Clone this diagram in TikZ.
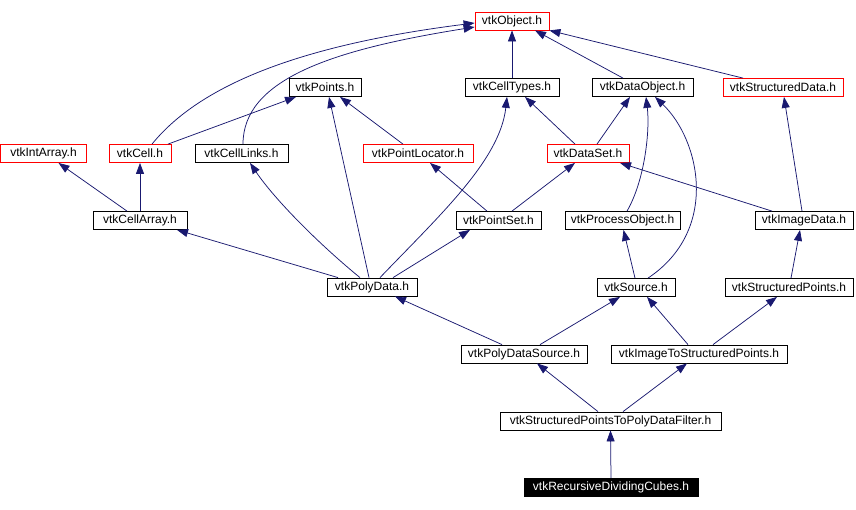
\documentclass[tikz,border=0pt]{standalone}
\usepackage{fontspec}
\setmainfont{Liberation Sans}
\usetikzlibrary{arrows.meta, calc}
\definecolor{edgenavy}{HTML}{191970}
\definecolor{boxred}{HTML}{FF0000}

\begin{document}
\begin{tikzpicture}[x=1pt, y=-1pt,
  font=\fontsize{12}{14}\selectfont,
  hdr/.style={draw=black, line width=0.8pt, inner sep=0pt, minimum height=18pt},
  hdrext/.style={hdr, draw=boxred},
  hdrmain/.style={hdr, fill=black, text=white},
  dep/.style={edgenavy, line width=0.75pt, -{Triangle[length=11pt, width=8pt]}}]

\useasboundingbox (0,0) rectangle (856,509);

% --- Row 1 ---
\node[hdrext, minimum width=74pt]  (obj)        at (512,21)    {vtkObject.h};

% --- Row 2 ---
\node[hdr, minimum width=72pt]     (points)     at (325,87.5)  {vtkPoints.h};
\node[hdr, minimum width=94pt]     (celltypes)  at (512,87.5)  {vtkCellTypes.h};
\node[hdr, minimum width=101pt]    (dataobj)    at (642.5,87.5){vtkDataObject.h};
\node[hdrext, minimum width=120pt] (structdata) at (783,87.5)  {vtkStructuredData.h};

% --- Row 3 ---
\node[hdrext, minimum width=86pt]  (intarray)   at (43.5,153.5){vtkIntArray.h};
\node[hdrext, minimum width=62pt]  (cell)       at (140,153.5) {vtkCell.h};
\node[hdr, minimum width=93pt]     (celllinks)  at (241.5,153.5){vtkCellLinks.h};
\node[hdrext, minimum width=110pt] (locator)    at (418,153.5) {vtkPointLocator.h};
\node[hdrext, minimum width=82pt]  (dataset)    at (588,153.5) {vtkDataSet.h};

% --- Row 4 ---
\node[hdr, minimum width=94pt]     (cellarray)  at (140,220.5) {vtkCellArray.h};
\node[hdr, minimum width=85pt]     (pointset)   at (498.5,220.5){vtkPointSet.h};
\node[hdr, minimum width=115pt]    (procobj)    at (622.5,220.5){vtkProcessObject.h};
\node[hdr, minimum width=98pt]     (imagedata)  at (804,220.5) {vtkImageData.h};

% --- Row 5 ---
\node[hdr, minimum width=90pt]     (polydata)   at (372,287)   {vtkPolyData.h};
\node[hdr, minimum width=78pt]     (source)     at (636,287.5) {vtkSource.h};
\node[hdr, minimum width=128pt]    (structpts)  at (789,287.5) {vtkStructuredPoints.h};

% --- Row 6 ---
\node[hdr, minimum width=126pt]    (pdsource)   at (524,354)   {vtkPolyDataSource.h};
\node[hdr, minimum width=176pt]    (imgtosp)    at (699,354)   {vtkImageToStructuredPoints.h};

% --- Rows 7 and 8 ---
\node[hdr, minimum width=221pt]    (sptopd)     at (610.5,421) {vtkStructuredPointsToPolyDataFilter.h};
\node[hdrmain, minimum width=174pt](rdcubes)    at (611,487.5) {vtkRecursiveDividingCubes.h};

% --- Curved dependencies ---
\draw[dep] ([xshift=12pt]cell.north) .. controls (200,85) and (300,45) .. ([yshift=-2pt]obj.west);
\draw[dep] ([xshift=1.5pt]celllinks.north) .. controls (243,80) and (330,50) .. ([yshift=-6pt]obj.west);
\draw[dep] ([xshift=8pt]polydata.north) .. controls (440,215) and (500,160) .. ([xshift=-5pt]celltypes.south);
\draw[dep] ([xshift=-12pt]polydata.north) .. controls (320,245) and (275,200) .. ([xshift=8.5pt]celllinks.south);
\draw[dep] ([xshift=4.5pt]procobj.north) .. controls (645,180) and (650,130) .. ([xshift=3.5pt]dataobj.south);
\draw[dep] ([xshift=12pt]source.north) .. controls (720,230) and (700,140) .. ([xshift=12.5pt]dataobj.south);

% --- Straight dependencies ---
\draw[dep] ([xshift=28pt]cell.north) -- ([xshift=-29pt]points.south);
\draw[dep] ([xshift=-15pt]locator.north) -- ([xshift=15pt]points.south);
\draw[dep] ([xshift=-3pt]polydata.north) -- ([xshift=4pt]points.south);
\draw[dep] (celltypes.north) -- (obj.south);
\draw[dep] ([xshift=-19.5pt]dataobj.north) -- ([xshift=23pt]obj.south);
\draw[dep] ([xshift=-40pt]structdata.north) -- (obj.south east);
\draw[dep] ([xshift=-13pt]dataset.north) -- ([xshift=13pt]celltypes.south);
\draw[dep] ([xshift=9pt]dataset.north) -- ([xshift=-12.5pt]dataobj.south);
\draw[dep] ([xshift=-2pt]imagedata.north) -- ([xshift=1pt]structdata.south);
\draw[dep] ([xshift=-32pt]imagedata.north) -- ([xshift=32pt]dataset.south);
\draw[dep] ([xshift=-11.5pt]pointset.north) -- ([xshift=12pt]locator.south);
\draw[dep] ([xshift=13.5pt]pointset.north) -- ([xshift=-13pt]dataset.south);
\draw[dep] ([xshift=-13pt]cellarray.north) -- ([xshift=15pt]intarray.south);
\draw[dep] (cellarray.north) -- (cell.south);
\draw[dep] ([xshift=-34pt]polydata.north) -- ([xshift=37pt]cellarray.south);
\draw[dep] ([xshift=21pt]polydata.north) -- ([xshift=-28.5pt]pointset.south);
\draw[dep] ([xshift=-1pt]source.north) -- ([xshift=1pt]procobj.south);
\draw[dep] ([xshift=2pt]structpts.north) -- ([xshift=-4pt]imagedata.south);
\draw[dep] ([xshift=-22pt]pdsource.north) -- ([xshift=23pt]polydata.south);
\draw[dep] ([xshift=16pt]pdsource.north) -- ([xshift=-16pt]source.south);
\draw[dep] ([xshift=-11pt]imgtosp.north) -- ([xshift=11pt]source.south);
\draw[dep] ([xshift=14pt]imgtosp.north) -- ([xshift=-12pt]structpts.south);
\draw[dep] ([xshift=-12.5pt]sptopd.north) -- ([xshift=13pt]pdsource.south);
\draw[dep] ([xshift=12.5pt]sptopd.north) -- ([xshift=-12pt]imgtosp.south);
\draw[dep] (rdcubes.north) -- (sptopd.south);

\end{tikzpicture}
\end{document}
